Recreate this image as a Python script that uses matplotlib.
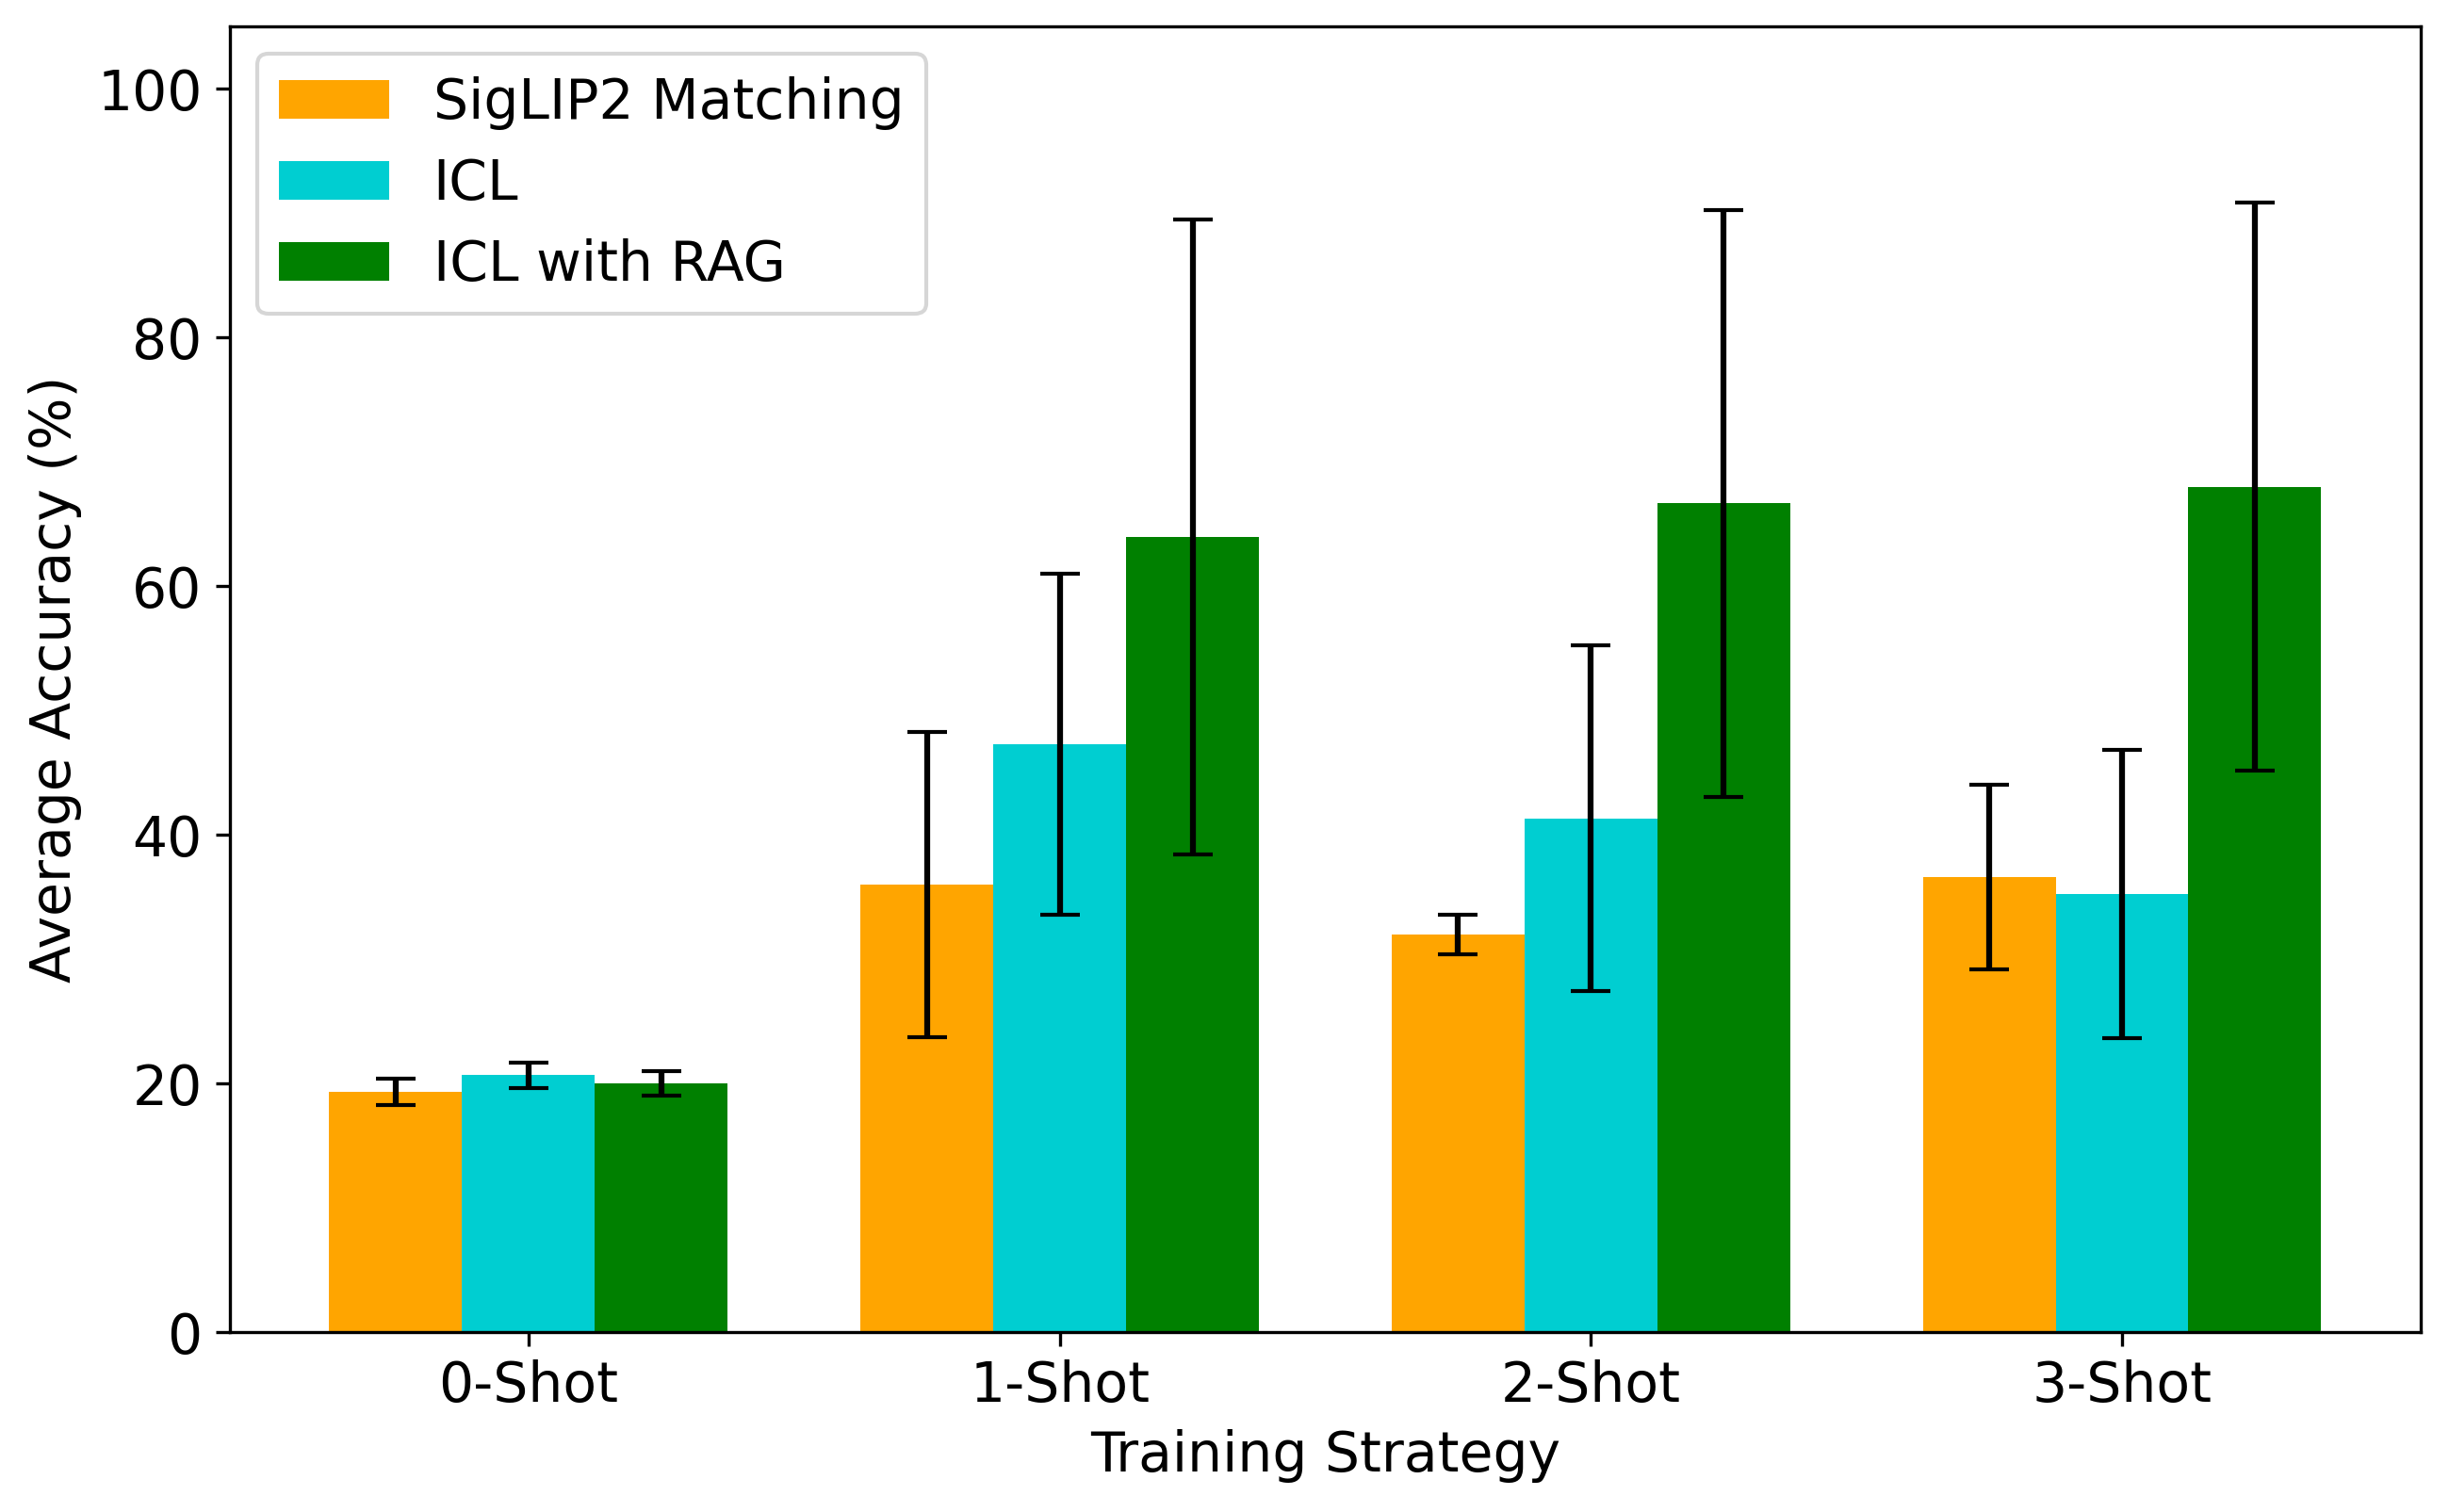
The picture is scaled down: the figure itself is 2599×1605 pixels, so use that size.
import numpy as np
import matplotlib
matplotlib.use("Agg")
import matplotlib.pyplot as plt

# Datos
strategies = ["0-Shot", "1-Shot", "2-Shot", "3-Shot"]
methods = ["SigLIP2 Matching", "ICL", "ICL with RAG"]

siglip_mean = [19.3, 36.0, 32.0, 36.6]
siglip_std = [1.05, 12.3, 1.6, 7.4]

icl_mean = [20.65, 47.3, 41.3, 35.25]
icl_std = [1.0, 13.7, 13.9, 11.6]

rag_mean = [20.0, 63.95, 66.65, 68.0]
rag_std = [1.0, 25.55, 23.6, 22.85]

colors = ["orange", "darkturquoise", "green"]


def main():
    plt.rcParams["font.size"] = 14

    fig, ax = plt.subplots(figsize=(2599 / 300, 1605 / 300), dpi=300)
    fig.subplots_adjust(left=0.0938, right=0.9885, top=0.9824, bottom=0.119)

    x = np.arange(len(strategies))
    width = 0.25
    means = [siglip_mean, icl_mean, rag_mean]
    stds = [siglip_std, icl_std, rag_std]

    for i, (m, s) in enumerate(zip(means, stds)):
        ax.bar(
            x + (i - 1) * width,
            m,
            width,
            yerr=s,
            capsize=5,
            color=colors[i],
            label=methods[i],
            error_kw={"ecolor": "black"},
        )

    ax.set_xticks(x)
    ax.set_xticklabels(strategies)
    ax.set_ylim(0, 105)
    ax.set_xlabel("Training Strategy")
    ax.set_ylabel("Average Accuracy (%)")
    ax.legend(loc="upper left")

    fig.savefig("out.png", dpi=300)


if __name__ == "__main__":
    main()
